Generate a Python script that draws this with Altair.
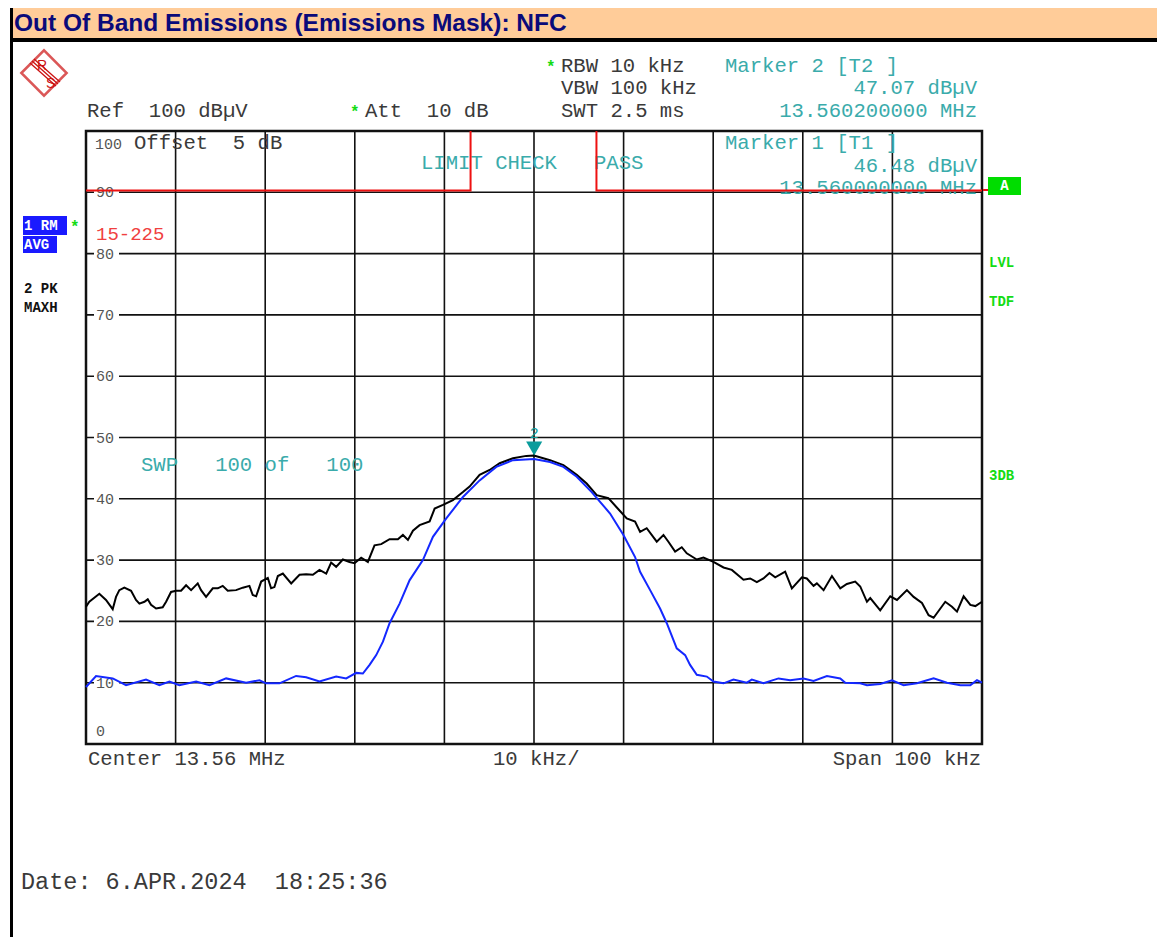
import altair as alt
import pandas as pd

# ---------------- data ----------------
black_freq = [-50.0, -49.63, -48.51, -47.77, -47.02, -46.65, -46.28, -45.72, -44.97, -44.42,
              -44.04, -43.48, -43.11, -42.74, -42.18, -41.44, -41.06, -40.51, -39.95, -39.39,
              -38.83, -38.27, -37.53, -37.16, -36.60, -35.85, -35.29, -34.74, -34.18, -33.25,
              -32.50, -31.76, -31.39, -31.01, -30.45, -29.71, -29.34, -28.97, -28.59, -28.03,
              -27.10, -26.17, -25.43, -24.68, -23.94, -23.19, -22.64, -22.08, -21.33, -20.59,
              -20.03, -19.29, -18.54, -17.80, -17.05, -16.12, -15.19, -14.63, -14.07, -13.51,
              -12.77, -11.65, -11.09, -10.16, -9.05, -7.93, -7.19, -6.07, -4.95, -3.83,
              -2.35, -0.86, 0.0,
              1.79, 3.28, 4.77, 5.88, 7.00, 8.30, 9.42, 10.35, 11.28, 11.84,
              12.58, 13.70, 14.45, 15.00, 15.75, 16.49, 17.05, 18.17, 18.91, 20.03,
              21.15, 22.08, 23.38, 24.13, 24.87, 25.61, 26.28, 26.92, 28.03, 28.78,
              29.90, 30.45, 31.20, 31.57, 32.32, 33.25, 34.18, 34.92, 35.85, 36.41,
              37.16, 37.53, 38.64, 39.76, 40.51, 41.62, 42.37, 43.30, 44.04, 44.60,
              45.90, 46.65, 47.21, 47.95, 48.70, 49.26, 50.0]
black_level = [22.4, 23.2, 24.5, 23.5, 22.0, 24.0, 25.1, 25.5, 25.0, 23.5,
               22.9, 23.2, 23.6, 22.7, 22.1, 22.3, 23.2, 24.8, 25.0, 25.0,
               25.9, 25.1, 26.2, 25.1, 24.0, 25.4, 25.4, 25.8, 25.0, 25.1,
               25.5, 25.8, 24.3, 24.1, 26.5, 27.1, 25.4, 25.6, 27.4, 27.8,
               26.2, 27.6, 27.7, 27.6, 28.4, 27.8, 29.6, 28.9, 30.1, 29.7,
               29.5, 30.4, 29.7, 32.4, 32.6, 33.4, 33.4, 34.1, 33.3, 34.8,
               35.7, 36.3, 38.4, 39.0, 39.8, 41.1, 42.0, 43.9, 44.7, 45.8,
               46.6, 47.0, 47.07,
               46.3, 45.5, 43.9, 42.5, 40.6, 40.1, 38.3, 36.8, 36.3, 34.6,
               35.2, 33.0, 34.1, 33.0, 31.4, 32.1, 31.1, 30.1, 30.4, 29.7,
               28.8, 28.4, 26.8, 27.0, 26.4, 27.0, 27.9, 27.2, 28.1, 25.4,
               27.2, 27.0, 25.8, 26.2, 25.1, 27.4, 25.4, 26.1, 26.5, 25.7,
               23.2, 23.8, 21.8, 24.1, 23.5, 25.1, 24.0, 23.0, 21.0, 20.6,
               23.2, 22.4, 21.6, 24.1, 22.7, 22.5, 23.2]

blue_freq = [-50.0, -48.88, -47.02, -45.53, -43.30, -41.81, -40.69, -39.58, -37.71, -36.22,
             -34.36, -32.13, -30.64, -29.90, -28.41, -26.55, -25.43, -23.94, -22.08, -20.96,
             -19.84, -19.10, -18.35, -17.61, -16.86, -16.12, -15.00, -13.89, -12.40, -11.28,
             -9.79, -7.93, -6.07, -4.21, -2.35, 0.0,
             1.79, 3.28, 4.77, 6.44, 8.49, 9.98, 11.28, 11.84, 12.96, 14.07,
             14.82, 15.93, 16.87, 17.42, 18.17, 19.29, 20.03, 21.15, 22.26, 23.75,
             24.31, 25.61, 27.29, 28.59, 30.08, 31.20, 32.69, 34.18, 34.74, 36.41,
             37.16, 38.64, 39.95, 41.25, 42.74, 44.60, 46.09, 47.58, 48.70, 49.44, 50.0]
blue_level = [9.3, 11.1, 10.7, 9.6, 10.5, 9.6, 10.2, 9.6, 10.2, 9.6,
              10.7, 10.0, 10.4, 9.9, 9.9, 11.1, 10.9, 10.2, 11.0, 10.7,
              11.6, 11.5, 12.9, 14.5, 16.7, 19.7, 22.9, 26.7, 30.0, 33.8,
              36.8, 40.3, 43.0, 45.2, 46.3, 46.48,
              46.0, 45.2, 43.6, 41.1, 37.6, 34.1, 30.5, 28.1, 25.1, 22.1,
              19.7, 15.6, 14.5, 12.9, 11.3, 11.0, 10.2, 9.9, 10.5, 10.0,
              10.5, 9.9, 10.7, 10.4, 10.7, 10.3, 11.1, 10.7, 10.0, 9.9,
              9.6, 9.8, 10.4, 9.6, 9.9, 10.7, 10.0, 9.6, 9.6, 10.4, 10.0]

limit_freq = [-50, -7.08, -7.08, 6.97, 6.97, 50]
limit_level = [90.3, 90.3, 100, 100, 90.3, 90.3]
limit_part = ["a", "a", "a", "b", "b", "b"]

grid_freqs = [-40, -30, -20, -10, 0, 10, 20, 30, 40]
grid_levels = [10, 20, 30, 40, 50, 60, 70, 80, 90]

marker_freq = 0.02
marker_level = 47.07

# ---------------- layout constants ----------------
PX0, PY0 = 86, 131      # page position of plot origin
W, H = 896, 613
MONO = "Liberation Mono"
TEAL = "#3aabab"
DARK = "#3a3a3a"
GREEN = "#14dc14"
FS = 20.6

xs = alt.Scale(domain=[-50, 50], nice=False, zero=False)
ys = alt.Scale(domain=[0, 100], nice=False, zero=False)
one = alt.Data(values=[{"k": 1}])


def txt(s, x, y, color=DARK, size=FS, align="left", weight="normal", font=MONO, baseline="alphabetic"):
    s = s.replace(" ", "\u00a0")
    return alt.Chart(one).mark_text(text=s, align=align, baseline=baseline, fontSize=size,
                                    font=font, color=color, fontWeight=weight).encode(
        x=alt.value(x - PX0), y=alt.value(y - PY0))


def box(x1, y1, x2, y2, color):
    return alt.Chart(one).mark_rect(color=color).encode(
        x=alt.value(x1 - PX0), x2=alt.value(x2 - PX0),
        y=alt.value(y1 - PY0), y2=alt.value(y2 - PY0))


def seg(x1, y1, x2, y2, color, w):
    return alt.Chart(one).mark_rule(color=color, strokeWidth=w).encode(
        x=alt.value(x1 - PX0), x2=alt.value(x2 - PX0),
        y=alt.value(y1 - PY0), y2=alt.value(y2 - PY0))


layers = []

# page furniture
layers += [
    box(10, 1, 1170, 42, "#000000"),
    box(12, 4, 1170, 38, "#FFCC99"),
    box(10, 1, 13, 946, "#000000"),
    alt.Chart(one).mark_text(text="Out Of Band Emissions (Emissions Mask): NFC", align="left",
                             baseline="alphabetic", fontSize=24.5, font="Liberation Sans",
                             fontWeight="bold", color="#0a0a7a").encode(
        x=alt.value(14 - PX0), y=alt.value(31 - PY0)),
]

# R&S logo
layers += [
    alt.Chart(one).mark_point(shape="diamond", filled=False, color="#cc1111", strokeWidth=2.5,
                              size=2050).encode(x=alt.value(44 - PX0), y=alt.value(73 - PY0)),
    seg(30, 63, 56, 86, "#cc1111", 1.3),
    seg(32, 61, 58, 84, "#cc1111", 1.3),
    seg(34, 59, 60, 82, "#cc1111", 1.3),
    txt("R", 37, 70, color="#cc1111", size=14, font="Liberation Sans"),
    txt("S", 46, 88, color="#cc1111", size=14, font="Liberation Sans"),
]

# header texts
layers += [
    txt("Ref  100 dBµV", 87, 117),
    txt("*", 350, 117, color=GREEN, size=16, weight="bold"),
    txt("Att  10 dB", 365, 117),
    txt("*", 546, 72, color=GREEN, size=16, weight="bold"),
    txt("RBW 10 kHz", 561, 72),
    txt("VBW 100 kHz", 561, 94),
    txt("SWT 2.5 ms", 561, 117),
    txt("Marker 2 [T2 ]", 725, 72, color=TEAL),
    txt("47.07 dBµV", 977, 94, color=TEAL, align="right"),
    txt("13.560200000 MHz", 977, 117, color=TEAL, align="right"),
]

# left / right side labels
layers += [
    box(23, 216, 67, 235, "#1a1aff"),
    box(23, 236, 57, 253, "#1a1aff"),
    txt("1 RM", 24, 230, color="white", size=14, weight="bold"),
    txt("*", 70, 232, color=GREEN, size=16, weight="bold"),
    txt("AVG", 24, 249, color="white", size=14, weight="bold"),
    txt("2 PK", 24, 293, color="#111", size=14, weight="bold"),
    txt("MAXH", 24, 312, color="#111", size=14, weight="bold"),
    box(988, 177, 1021, 195, "#00dd00"),
    txt("A", 1004.5, 186, color="white", size=14, weight="bold", align="center", baseline="middle"),
    txt("LVL", 989, 267, color=GREEN, size=14, weight="bold"),
    txt("TDF", 989, 306, color=GREEN, size=14, weight="bold"),
    txt("3DB", 989, 480, color=GREEN, size=14, weight="bold"),
]

# grid
vgrid = alt.Chart(pd.DataFrame({"f": grid_freqs})).mark_rule(color="#111", strokeWidth=1.6).encode(
    x=alt.X("f:Q", scale=xs, axis=None), y=alt.value(0), y2=alt.value(H))
hgrid = alt.Chart(pd.DataFrame({"v": grid_levels})).mark_rule(color="#111", strokeWidth=1.6).encode(
    y=alt.Y("v:Q", scale=ys, axis=None), x=alt.value(0), x2=alt.value(W))
lab_df = pd.DataFrame({"v": grid_levels, "t": [str(v) for v in grid_levels]})
lab_bg = alt.Chart(lab_df).transform_calculate(lo="datum.v - 0.8", hi="datum.v + 0.8").mark_rect(
    color="white").encode(y=alt.Y("lo:Q", scale=ys, axis=None), y2="hi:Q",
                          x=alt.value(8), x2=alt.value(33))
lab_tx = alt.Chart(lab_df).mark_text(align="left", baseline="middle", font=MONO, fontSize=15,
                                     color="#555").encode(
    y=alt.Y("v:Q", scale=ys, axis=None), x=alt.value(10), text="t:N")
layers += [vgrid, hgrid, lab_bg, lab_tx]

# in-plot annotations
layers += [
    txt("100", 95, 149, color="#555", size=15),
    txt("Offset  5 dB", 134, 149),
    txt("0", 96, 736, color="#555", size=15),
    txt("LIMIT CHECK   PASS", 421, 169, color=TEAL),
    txt("Marker 1 [T1 ]", 725, 149, color=TEAL),
    txt("46.48 dBµV", 977, 172, color=TEAL, align="right"),
    txt("13.560000000 MHz", 977, 194, color=TEAL, align="right"),
    txt("15-225", 96, 240, color="#f04040", size=19),
    txt("SWP   100 of   100", 141, 471, color=TEAL),
]

# limit line
lim = alt.Chart(pd.DataFrame({"f": limit_freq, "v": limit_level, "p": limit_part})).mark_line(
    color="#ee1111", strokeWidth=2).encode(
    x=alt.X("f:Q", scale=xs, axis=None), y=alt.Y("v:Q", scale=ys, axis=None), detail="p:N")
lim_ext = seg(983, 190, 988, 190, "#ee1111", 2)

# traces
blk = alt.Chart(pd.DataFrame({"f": black_freq, "v": black_level})).mark_line(
    color="#000000", strokeWidth=2).encode(
    x=alt.X("f:Q", scale=xs, axis=None), y=alt.Y("v:Q", scale=ys, axis=None))
blu = alt.Chart(pd.DataFrame({"f": blue_freq, "v": blue_level})).mark_line(
    color="#1428ff", strokeWidth=2).encode(
    x=alt.X("f:Q", scale=xs, axis=None), y=alt.Y("v:Q", scale=ys, axis=None))

mk_df = pd.DataFrame({"f": [marker_freq], "v": [marker_level]})
mk = alt.Chart(mk_df).mark_point(shape="triangle-down", filled=True, color="#0a9c9c", size=260,
                                 opacity=1, yOffset=-7).encode(
    x=alt.X("f:Q", scale=xs, axis=None), y=alt.Y("v:Q", scale=ys, axis=None))
mk_t = alt.Chart(mk_df).mark_text(text="2", color="#0a9c9c", fontSize=15, font=MONO,
                                  baseline="alphabetic", align="center", dy=-17).encode(
    x=alt.X("f:Q", scale=xs, axis=None), y=alt.Y("v:Q", scale=ys, axis=None))
layers += [lim, lim_ext, blk, blu, mk, mk_t]

# footer
layers += [
    txt("Center 13.56 MHz", 88, 765),
    txt("10 kHz/", 493, 765),
    txt("Span 100 kHz", 981, 765, align="right"),
    txt("Date: 6.APR.2024  18:25:36", 21, 889, size=23.5),
]

chart = alt.layer(*layers).properties(
    width=W, height=H,
    padding={"left": 78, "top": 123, "right": 175, "bottom": 193},
    autosize=alt.AutoSizeParams(type="none"),
    background="white",
).configure_view(stroke="#111", strokeWidth=2.5)

chart.save("out.html", embed_options={"renderer": "svg", "actions": False})
